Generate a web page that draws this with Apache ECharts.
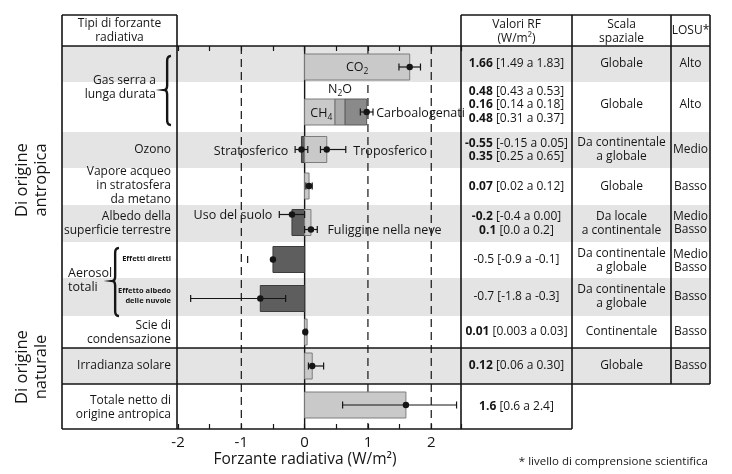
<!DOCTYPE html>
<html>
<head>
<meta charset="utf-8">
<script src="https://cdn.jsdelivr.net/npm/echarts@6/dist/echarts.min.js"></script>
<style>
html,body{margin:0;padding:0;background:#fff;}
#chart{width:732px;height:474px;}
</style>
</head>
<body>
<div id="chart"></div>
<script>
// ================= DATA =================
const xTickLabels = [-2, -1, 0, 1, 2];
const dashedAt = [-1, 1, 2];
const zeroAt = [0];

// bars (one entry per bar segment)
const barRow   = [0, 1, 1, 1, 2, 2, 3, 4, 4, 5, 6, 7, 8, 9];
const barStart = [0, 0, 0.48, 0.64, 0, 0, 0, 0, 0, 0, 0, 0, 0, 0];
const barEnd   = [1.66, 0.48, 0.64, 0.98, -0.05, 0.35, 0.07, -0.2, 0.1, -0.5, -0.7, 0.01, 0.12, 1.6];
const barKind  = ['light','light','mid','dark','darkest','light','light','darkest','light','darkest','darkest','light','light','light'];

// error bars (best estimate + uncertainty range)
const errRow  = [0, 1, 2, 2, 3, 4, 4, 5, 6, 7, 8, 9];
const errMid  = [1.66, 0.98, -0.05, 0.35, 0.07, -0.2, 0.1, -0.5, -0.7, 0.01, 0.12, 1.6];
const errLow  = [1.49, 0.88, -0.15, 0.25, 0.02, -0.4, 0.0, -0.9, -1.8, 0.003, 0.06, 0.6];
const errHigh = [1.83, 1.08, 0.05, 0.65, 0.12, 0.0, 0.2, -0.1, -0.3, 0.03, 0.30, 2.4];

// in-plot annotations
const annText = ['{n|CO}{s|2}', '{n|N}{s|2}{n|O}', '{n|CH}{s|4}', 'Carboalogenati', 'Stratosferico', 'Troposferico', 'Uso del suolo', 'Fuliggine nella neve'];
const annX    = [0.83, 0.56, 0.09, 1.13, -0.26, 0.77, -0.51, 0.36];

// table columns
const rfCentral = [['1.66'], ['0.48','0.16','0.48'], ['-0.55','0.35'], ['0.07'], ['-0.2','0.1'], ['-0.5'], ['-0.7'], ['0.01'], ['0.12'], ['1.6']];
const rfRange   = [['[1.49 a 1.83]'], ['[0.43 a 0.53]','[0.14 a 0.18]','[0.31 a 0.37]'], ['[-0.15 a 0.05]','[0.25 a 0.65]'], ['[0.02 a 0.12]'], ['[-0.4 a 0.00]','[0.0 a 0.2]'], ['[-0.9 a -0.1]'], ['[-1.8 a -0.3]'], ['[0.003 a 0.03]'], ['[0.06 a 0.30]'], ['[0.6 a 2.4]']];
const rfBold    = [true, true, true, true, true, false, false, true, true, true];
const scalaText = ['Globale', 'Globale', 'Da continentale\na globale', 'Globale', 'Da locale\na continentale', 'Da continentale\na globale', 'Da continentale\na globale', 'Continentale', 'Globale', ''];
const losuText  = ['Alto', 'Alto', 'Medio', 'Basso', 'Medio\nBasso', 'Medio\nBasso', 'Basso', 'Basso', 'Basso', ''];
const typeText  = ['Gas serra a\nlunga durata', 'Ozono', 'Vapore acqueo\nin stratosfera\nda metano', 'Albedo della\nsuperficie terrestre', 'Effetti diretti', 'Effetto albedo\ndelle nuvole', 'Scie di\ncondensazione', 'Irradianza solare', 'Totale netto di\norigine antropica'];
const groupText = ['Di origine\nantropica', 'Di origine\nnaturale'];
const headers   = ['Tipi di forzante\nradiativa', 'Valori RF\n(W/m²)', 'Scala\nspaziale', 'LOSU*'];
const axisTitle = 'Forzante radiativa (W/m²)';
const footnote  = '* livello di comprensione scientifica';

// ================= LAYOUT / STYLE =================
const FONT = 'Open Sans';
const INK = '#151515';
const colX = [62, 177, 461, 572, 671, 710];
const tableTop = 15, headBottom = 46, tableBottom = 429;
const rowEdges = [46, 82, 132, 168, 205, 242, 278, 316, 348, 384, 429];
const rowGray  = [1, 0, 1, 0, 1, 0, 1, 0, 1, 0];
const barMidY  = [67, 112, 149.5, 186, 222.5, 259.5, 298.5, 332, 366, 405];
const barHalf  = 13;
const minBarPx = 2.5;
const errDy    = [0, 0, 0, 0, 0, -8, 7, 0, 0, 0, 0, 0];
const errLine  = [1, 1, 1, 1, 1, 1, 1, 0, 1, 1, 1, 1];
const annY     = [67, 89, 113, 113, 151, 151, 215, 230];
const annAlign = ['center','center','left','left','right','left','right','left'];
const kindFill = {light:'#c9c9c9', mid:'#ababab', dark:'#8a8a8a', darkest:'#5e5e5e'};
const kindStroke = {light:'#7d7d7d', mid:'#6e6e6e', dark:'#5a5a5a', darkest:'#3c3c3c'};

const rowMid = i => (rowEdges[i] + rowEdges[i+1]) / 2;

const chart = echarts.init(document.getElementById('chart'));

// ---- graphic (table frame, bands, text) ----
const G = [];
rowGray.forEach((g, i) => {
  if (g) G.push({type:'rect', z:0, silent:true,
    shape:{x:colX[0], y:rowEdges[i], width:colX[5]-colX[0], height:rowEdges[i+1]-rowEdges[i]},
    style:{fill:'#e4e4e4'}});
});
function hline(y, x1, x2){ G.push({type:'line', z:50, silent:true, shape:{x1, y1:y, x2, y2:y}, style:{stroke:INK, lineWidth:1.6}}); }
function vline(x, y1, y2){ G.push({type:'line', z:50, silent:true, shape:{x1:x, y1, x2:x, y2}, style:{stroke:INK, lineWidth:1.6}}); }
hline(tableTop, colX[0], colX[1]); hline(tableTop, colX[2], colX[5]);
hline(headBottom, colX[0], colX[5]);
hline(rowEdges[8], colX[0], colX[5]); hline(rowEdges[9], colX[0], colX[5]);
hline(tableBottom, colX[0], colX[3]);
vline(colX[0], tableTop, tableBottom); vline(colX[1], tableTop, tableBottom);
vline(colX[2], tableTop, tableBottom); vline(colX[3], tableTop, tableBottom);
vline(colX[4], tableTop, rowEdges[9]); vline(colX[5], tableTop, rowEdges[9]);

function txt(text, x, y, opt) {
  opt = opt || {};
  G.push({type:'text', z:60, silent:true, x, y, rotation: opt.rotation || 0,
    style: Object.assign({text, x:0, y:0, fill:INK, fontFamily:FONT, fontSize:12,
      textAlign:'center', textVerticalAlign:'middle', verticalAlign:'middle', lineHeight:14}, opt.style || {})});
}
// headers
txt(headers[0], (colX[0]+colX[1])/2, 31);
txt(headers[1], (colX[2]+colX[3])/2, 32);
txt(headers[2], (colX[3]+colX[4])/2, 32);
txt(headers[3], (colX[4]+colX[5])/2, 31);
// left column
const R = {style:{textAlign:'right'}};
txt(typeText[0], 156, 88, R);
txt(typeText[1], 171, rowMid(2), R);
txt(typeText[2], 171, rowMid(3)-1, R);
txt(typeText[3], 171, rowMid(4), R);
txt('Aerosol\ntotali', 68, 280, {style:{textAlign:'left', fontSize:12.5, lineHeight:14}});
txt(typeText[4], 171, 259, {style:{textAlign:'right', fontSize:7.5, fontWeight:'bold', lineHeight:10}});
txt(typeText[5], 171, 296, {style:{textAlign:'right', fontSize:7.5, fontWeight:'bold', lineHeight:10}});
txt(typeText[6], 171, rowMid(7)+1, R);
txt(typeText[7], 171, rowMid(8), R);
txt(typeText[8], 171, rowMid(9)+1, R);
// group labels (rotated)
txt(groupText[0], 31.5, 180, {rotation:Math.PI/2, style:{fontSize:16.5, lineHeight:19}});
txt(groupText[1], 31.5, 367, {rotation:Math.PI/2, style:{fontSize:16.5, lineHeight:19}});
// braces (as polylines)
function quad(p0, c, p1, n) {
  const pts = [];
  for (let k = 1; k <= n; k++) {
    const t = k / n, u = 1 - t;
    pts.push([u*u*p0[0] + 2*u*t*c[0] + t*t*p1[0], u*u*p0[1] + 2*u*t*c[1] + t*t*p1[1]]);
  }
  return pts;
}
function bracePoints(x, top, bottom, mid, w) {
  const xm = x + w * 0.45, xr = x + w, r = 5;
  let pts = [[xr, top]];
  pts = pts.concat(quad([xr, top], [xm, top], [xm, top + r], 6));
  pts.push([xm, mid - r]);
  pts = pts.concat(quad([xm, mid - r], [xm, mid], [x, mid], 6));
  pts = pts.concat(quad([x, mid], [xm, mid], [xm, mid + r], 6));
  pts.push([xm, bottom - r]);
  pts = pts.concat(quad([xm, bottom - r], [xm, bottom], [xr, bottom], 6));
  return pts;
}
G.push({type:'polyline', z:60, silent:true, shape:{points:bracePoints(164, 56, 125, 90, 7)}, style:{stroke:INK, lineWidth:2.4, fill:null}});
G.push({type:'polyline', z:60, silent:true, shape:{points:bracePoints(112, 248, 316, 281, 7)}, style:{stroke:INK, lineWidth:2.4, fill:null}});
// right columns
const rich = {b:{fontWeight:'bold', fontFamily:FONT, fontSize:12, fill:INK, lineHeight:13.5}, r:{fontFamily:FONT, fontSize:12, fill:INK, lineHeight:13.5}};
rfCentral.forEach((arr, i) => {
  const lines = arr.map((c, k) => rfBold[i] ? `{b|${c}}{r| ${rfRange[i][k]}}` : `{r|${c} ${rfRange[i][k]}}`).join('\n');
  const y = i === 1 ? rowMid(i) - 2 : rowMid(i);
  txt(lines, (colX[2]+colX[3])/2, y, {style:{rich, lineHeight:13.5}});
  if (scalaText[i]) txt(scalaText[i], (colX[3]+colX[4])/2, y + (i===5?1:0));
  if (losuText[i]) txt(losuText[i], (colX[4]+colX[5])/2, y + (i===5?1:0), {style:{lineHeight:13}});
});
// axis title and footnote
txt(axisTitle, 305, 460, {style:{fontSize:15.5}});
txt(footnote, 708, 462, {style:{textAlign:'right', fontSize:11.5}});

// ---- series data ----
const barData = barRow.map((r, i) => [barStart[i], barEnd[i], barMidY[r], i]);
const errData = errRow.map((r, i) => [errLow[i], errHigh[i], errMid[i], barMidY[r] + errDy[i], i]);
const annData = annText.map((t, i) => [annX[i], annY[i], i]);
const vData = dashedAt.map(v => [v, 0]).concat(zeroAt.map(v => [v, 1]));

const axisCommon = {
  type:'value', min:-2, max:2.47, interval:0.5, z:10,
  axisLine:{show:false},
  axisTick:{show:true, inside:true, length:5, lineStyle:{color:INK, width:1.2}},
  splitLine:{show:false}
};

const option = {
  animation:false,
  backgroundColor:'#fff',
  graphic:{elements:G},
  grid:[{left:colX[1]+1, top:headBottom, width:colX[2]-colX[1]-1, height:tableBottom-headBottom, show:false}],
  xAxis:[
    Object.assign({}, axisCommon, {position:'bottom',
      axisLabel:{show:true, formatter:v => xTickLabels.includes(v) ? String(v) : '', fontFamily:FONT, fontSize:15, color:INK, margin:6}}),
    Object.assign({}, axisCommon, {position:'top', axisLabel:{show:false}})
  ],
  yAxis:[{type:'value', min:headBottom, max:tableBottom, inverse:true, show:false}],
  series:[
    { // reference lines
      type:'custom', z:3, silent:true, data:vData,
      renderItem(params, api) {
        const v = api.value(0), solid = api.value(1);
        const p1 = api.coord([v, headBottom]), p2 = api.coord([v, tableBottom]);
        return {type:'line', shape:{x1:p1[0], y1:p1[1], x2:p2[0], y2:p2[1]},
          style:{stroke:INK, lineWidth:solid ? 1.4 : 1.2, lineDash: solid ? null : [8,5]}};
      }
    },
    { // bars
      type:'custom', z:20, silent:true, data:barData,
      renderItem(params, api) {
        const s = api.value(0), e = api.value(1), yc = api.value(2), k = barKind[api.value(3)];
        const p0 = api.coord([s, yc]), p1 = api.coord([e, yc]);
        let x = Math.min(p0[0], p1[0]), w = Math.abs(p1[0] - p0[0]);
        if (w < minBarPx) { if (e < s) x = p0[0] - minBarPx; w = minBarPx; }
        return {type:'rect', shape:{x, y:yc - barHalf, width:w, height:barHalf*2},
          style:{fill:kindFill[k], stroke:kindStroke[k], lineWidth:1}};
      }
    },
    { // error bars + best estimates
      type:'custom', z:22, silent:true, data:errData,
      renderItem(params, api) {
        const lo = api.value(0), hi = api.value(1), mid = api.value(2), yc = api.value(3), i = api.value(4);
        const pl = api.coord([lo, yc]), ph = api.coord([hi, yc]), pm = api.coord([mid, yc]);
        const st = {stroke:INK, lineWidth:1.2}, c = 3.5;
        const ch = [];
        if (errLine[i]) ch.push({type:'line', shape:{x1:pl[0], y1:yc, x2:ph[0], y2:yc}, style:st});
        ch.push({type:'line', shape:{x1:pl[0], y1:yc-c, x2:pl[0], y2:yc+c}, style:st});
        if (errLine[i]) ch.push({type:'line', shape:{x1:ph[0], y1:yc-c, x2:ph[0], y2:yc+c}, style:st});
        ch.push({type:'circle', shape:{cx:pm[0], cy:yc, r:3.2}, style:{fill:INK}});
        return {type:'group', children:ch};
      }
    },
    { // annotations
      type:'custom', z:24, silent:true, data:annData,
      renderItem(params, api) {
        const i = api.value(2);
        const p = api.coord([api.value(0), api.value(1)]);
        return {type:'text', x:p[0], y:p[1], style:{text:annText[i], fill:INK, fontFamily:FONT, fontSize:12.5,
          textAlign:annAlign[i], textVerticalAlign:'middle', verticalAlign:'middle',
          rich:{n:{fontFamily:FONT, fontSize:12.5, fill:INK, lineHeight:18}, s:{fontFamily:FONT, fontSize:8.5, fill:INK, verticalAlign:'bottom', lineHeight:12}}}};
      }
    }
  ]
};
chart.setOption(option);
</script>
</body>
</html>
